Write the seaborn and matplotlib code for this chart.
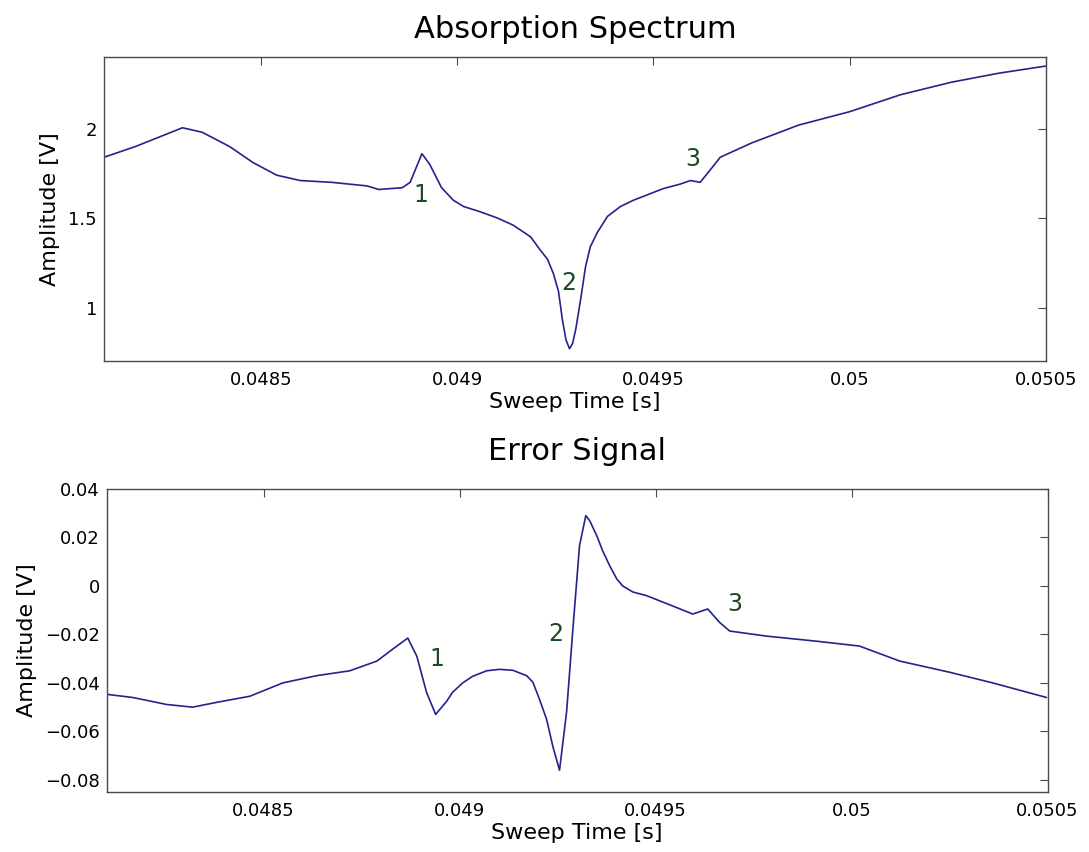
import matplotlib
matplotlib.use("Agg")
import matplotlib.pyplot as plt
import seaborn as sns
import pandas as pd

# Absorption spectrum trace (sweep time in s, amplitude in V)
abs_time = [0.04810, 0.04818, 0.04826, 0.04830, 0.04835, 0.04842, 0.04848,
            0.04854, 0.04860, 0.04868, 0.04877, 0.04880, 0.04886, 0.04888,
            0.04891, 0.04893, 0.04896, 0.04899, 0.049016, 0.049059, 0.049103,
            0.049143, 0.049187, 0.049212, 0.04923, 0.049245, 0.049258, 0.049268,
            0.049277, 0.049286, 0.049294, 0.049302, 0.049314, 0.049327, 0.049339,
            0.049357, 0.049383, 0.049416, 0.049449, 0.049484, 0.049525, 0.049568,
            0.049594, 0.049619, 0.049652, 0.04967, 0.04975, 0.04987, 0.05000,
            0.05013, 0.05026, 0.05038, 0.05050]
abs_amp = [1.84, 1.90, 1.97, 2.005, 1.98, 1.90, 1.81,
           1.74, 1.71, 1.70, 1.68, 1.66, 1.67, 1.70,
           1.86, 1.80, 1.67, 1.60, 1.565, 1.535, 1.50,
           1.46, 1.395, 1.32, 1.27, 1.19, 1.09, 0.93,
           0.82, 0.77, 0.80, 0.88, 1.04, 1.23, 1.34,
           1.42, 1.51, 1.565, 1.60, 1.63, 1.665, 1.69,
           1.71, 1.70, 1.79, 1.84, 1.92, 2.02, 2.095,
           2.19, 2.26, 2.31, 2.35]

# Error signal trace
err_time = [0.04810, 0.048166, 0.048253, 0.048319, 0.048381, 0.048465, 0.048549,
            0.048636, 0.048720, 0.048789, 0.048830, 0.048868, 0.048891, 0.048916,
            0.048939, 0.048967, 0.048982, 0.049008, 0.049033, 0.049069, 0.049102,
            0.049136, 0.049171, 0.049187, 0.049204, 0.049222, 0.049238, 0.049255,
            0.049273, 0.049289, 0.049306, 0.049322, 0.049332, 0.049350, 0.049365,
            0.049383, 0.049401, 0.049416, 0.049442, 0.049477, 0.049544, 0.049595,
            0.049633, 0.049663, 0.049689, 0.049783, 0.049911, 0.050020, 0.050123,
            0.050250, 0.050360, 0.050497]
err_amp = [-0.0447, -0.046, -0.0489, -0.050, -0.048, -0.0455, -0.040,
           -0.037, -0.035, -0.031, -0.026, -0.0215, -0.029, -0.044,
           -0.053, -0.0476, -0.0439, -0.040, -0.0373, -0.035, -0.0344,
           -0.0348, -0.037, -0.0397, -0.0468, -0.055, -0.0662, -0.076,
           -0.052, -0.018, 0.0166, 0.029, 0.0269, 0.0207, 0.0145,
           0.0083, 0.0029, 0.0, -0.0025, -0.004, -0.0083, -0.0116,
           -0.0095, -0.015, -0.0186, -0.0207, -0.0228, -0.0248, -0.031,
           -0.0356, -0.040, -0.046]

# Numbered feature markers
peak_labels = ["1", "2", "3"]
abs_label_x = [0.048907, 0.049283, 0.049599]
abs_label_y = [1.63, 1.14, 1.83]
err_label_x = [0.048942, 0.049245, 0.049702]
err_label_y = [-0.030, -0.020, -0.0075]

x_ticks = [0.0485, 0.049, 0.0495, 0.05, 0.0505]
x_tick_labels = ["0.0485", "0.049", "0.0495", "0.05", "0.0505"]
abs_y_ticks = [1, 1.5, 2]
abs_y_tick_labels = ["1", "1.5", "2"]
err_y_ticks = [-0.08, -0.06, -0.04, -0.02, 0, 0.02, 0.04]
err_y_tick_labels = ["\u22120.08", "\u22120.06", "\u22120.04", "\u22120.02", "0", "0.02", "0.04"]

sns.set_theme(style="white")
plt.rcParams["font.family"] = ["DejaVu Sans"]
plt.rcParams["text.color"] = "black"
plt.rcParams["axes.labelcolor"] = "black"
plt.rcParams["axes.titlecolor"] = "black"
plt.rcParams["xtick.labelcolor"] = "black"
plt.rcParams["ytick.labelcolor"] = "black"

line_color = "#23238c"
label_color = "#1c4a25"
spine_color = "#4a4a4a"

fig = plt.figure(figsize=(10.89, 8.52), dpi=100)
ax_top = fig.add_axes([0.0955, 0.576, 0.865, 0.357])
ax_bot = fig.add_axes([0.098, 0.0704, 0.864, 0.3557])

abs_df = pd.DataFrame({"t": abs_time, "v": abs_amp})
err_df = pd.DataFrame({"t": err_time, "v": err_amp})

sns.lineplot(data=abs_df, x="t", y="v", ax=ax_top, color=line_color,
             linewidth=1.2, estimator=None, sort=False)
sns.lineplot(data=err_df, x="t", y="v", ax=ax_bot, color=line_color,
             linewidth=1.2, estimator=None, sort=False)


def style_axes(ax, title, pad, yticks, ylabels, ylim):
    ax.set_xlim(0.0481, 0.0505)
    ax.set_ylim(*ylim)
    ax.set_xticks(x_ticks)
    ax.set_xticklabels(x_tick_labels)
    ax.set_yticks(yticks)
    ax.set_yticklabels(ylabels)
    ax.set_title(title, fontsize=22, pad=pad, color="black")
    ax.set_xlabel("Sweep Time [s]", fontsize=16, labelpad=2, color="black")
    ax.set_ylabel("Amplitude [V]", fontsize=16, labelpad=6, color="black")
    ax.tick_params(direction="in", top=True, right=True, length=6,
                   width=0.8, color=spine_color, labelsize=13, pad=7,
                   labelcolor="black")
    ax.tick_params(axis="y", pad=5)
    for s in ax.spines.values():
        s.set_color(spine_color)
        s.set_linewidth(1.0)
        s.set_visible(True)


style_axes(ax_top, "Absorption Spectrum", 14, abs_y_ticks, abs_y_tick_labels, (0.7, 2.4))
style_axes(ax_bot, "Error Signal", 21, err_y_ticks, err_y_tick_labels, (-0.085, 0.04))

for lab, x, y in zip(peak_labels, abs_label_x, abs_label_y):
    ax_top.text(x, y, lab, color=label_color, fontsize=17, ha="center", va="center")
for lab, x, y in zip(peak_labels, err_label_x, err_label_y):
    ax_bot.text(x, y, lab, color=label_color, fontsize=17, ha="center", va="center")

fig.savefig("out.png", dpi=100)
